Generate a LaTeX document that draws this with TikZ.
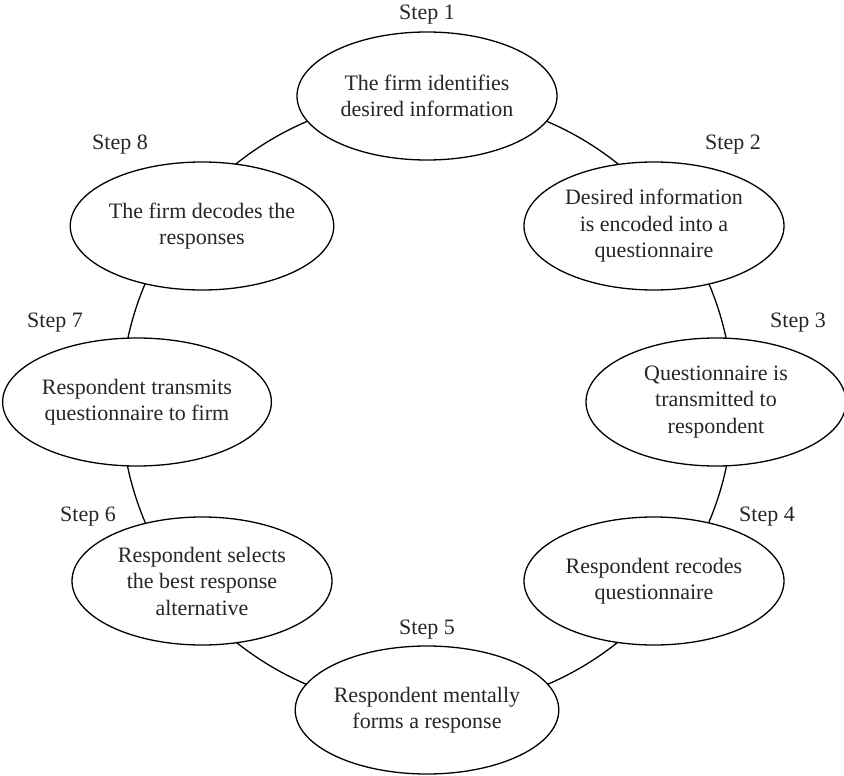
\documentclass[tikz,border=0pt]{standalone}
\usepackage{fontspec}
\setmainfont{Liberation Serif}
\usetikzlibrary{shapes.geometric}
\begin{document}
\begin{tikzpicture}[x=1pt,y=-1pt,
  stage/.style={ellipse,draw,line width=1.3pt,fill=white,inner sep=0pt,
    minimum width=260pt,minimum height=128pt,align=center,
    font=\fontsize{22}{26.5}\selectfont,text=black!85},
  steplabel/.style={inner sep=0pt,font=\fontsize{22}{26.5}\selectfont,text=black!85},
  ring/.style={line width=1.3pt}]
\useasboundingbox (0,0) rectangle (844,776);
% the cycle that links the stages
\coordinate (hub) at (427,403);
\draw[ring] (hub) circle[radius=306pt];
% stages
\node[stage] (s1) at (427,96)  {The firm identifies\\desired information};
\node[stage] (s2) at (654,226) {Desired information\\is encoded into a\\questionnaire};
\node[stage] (s3) at (716,402) {Questionnaire is\\transmitted to\\respondent};
\node[stage] (s4) at (654,581) {Respondent recodes\\questionnaire};
\node[stage] (s5) at (427,710) {Respondent mentally\\forms a response};
\node[stage] (s6) at (202,581) {Respondent selects\\the best response\\alternative};
\node[stage] (s7) at (137,402) {Respondent transmits\\questionnaire to firm};
\node[stage] (s8) at (202,226) {The firm decodes the\\responses};
% step numbers
\node[steplabel] (l1) at (427,15)  {Step 1};
\node[steplabel] (l2) at (733,145) {Step 2};
\node[steplabel] (l3) at (798,323) {Step 3};
\node[steplabel] (l4) at (767,517) {Step 4};
\node[steplabel] (l5) at (427,630) {Step 5};
\node[steplabel] (l6) at (88,517)  {Step 6};
\node[steplabel] (l7) at (55,323)  {Step 7};
\node[steplabel] (l8) at (120,145) {Step 8};
\end{tikzpicture}
\end{document}
